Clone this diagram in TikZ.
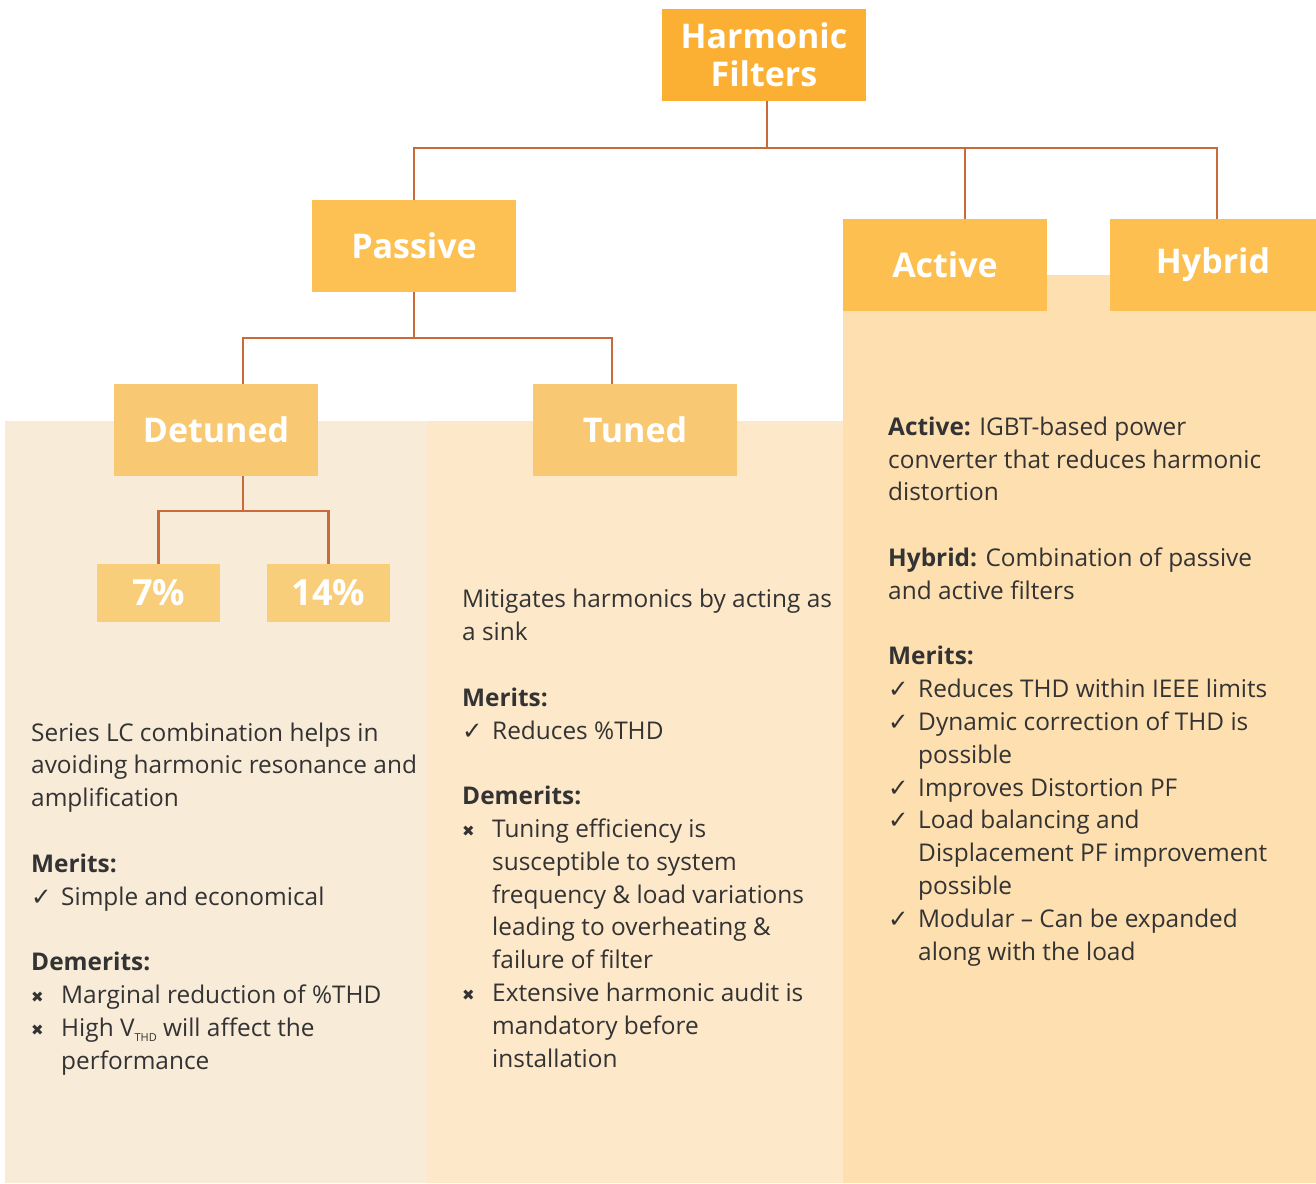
\documentclass[tikz,border=0pt]{standalone}
\usepackage{fontspec}
\setmainfont{Open Sans}
\newfontfamily\symfont{DejaVu Sans}
\definecolor{hfc}{HTML}{FBB034}
\definecolor{pasc}{HTML}{FCC152}
\definecolor{actc}{HTML}{FDBF4F}
\definecolor{detc}{HTML}{F9C872}
\definecolor{pctc}{HTML}{F9CE7B}
\definecolor{leftbg}{HTML}{F8EBD8}
\definecolor{midbg}{HTML}{FDE8CA}
\definecolor{rightbg}{HTML}{FDDFB0}
\definecolor{connc}{HTML}{C96A3B}
\definecolor{txtc}{HTML}{333333}
\newcommand{\ck}{\makebox[30pt][l]{{\symfont ✓}}}
\newcommand{\cx}{\makebox[30pt][l]{\raisebox{1pt}{\symfont\fontsize{15}{15}\selectfont ✖}}}
\newcommand{\ind}{\hspace*{30pt}}
\begin{document}
\begin{tikzpicture}[x=1pt,y=-1pt,
  box/.style={inner sep=0pt, text=white, font=\fontsize{34}{38}\selectfont\bfseries, minimum width=204pt, minimum height=92pt, align=center},
  pct/.style={inner sep=0pt, text=white, font=\fontsize{36}{38}\selectfont\bfseries, minimum width=123pt, minimum height=58pt},
  conn/.style={draw=connc, line width=2.6pt},
  body/.style={inner sep=0pt, text=txtc, align=left, anchor=base west, font=\fontsize{24.4}{32.8}\selectfont}]
\useasboundingbox (0,0) rectangle (1316,1183);
\fill[white] (0,0) rectangle (1316,1183);
% panels
\fill[leftbg] (5,421) rectangle (427,1183);
\fill[midbg] (427,421) rectangle (843,1183);
\fill[rightbg] (843,275) rectangle (1316,1183);
% boxes
\node[box, fill=hfc] (hf) at (764,55) {Harmonic\\Filters};
\node[box, fill=pasc] (passive) at (414,246) {Passive};
\node[box, fill=actc] (active) at (945,265) {Active};
\node[box, fill=actc, minimum width=206pt] (hybrid) at (1213,265) {Hybrid};
\node[box, fill=detc] (detuned) at (216,430) {Detuned};
\node[box, fill=detc] (tuned) at (635,430) {Tuned};
\node[pct, fill=pctc] (p7) at (158.5,593) {7\%};
\node[pct, fill=pctc] (p14) at (328.5,593) {14\%};
% connectors
\coordinate (j1) at (767,148);
\coordinate (j2) at (414,338);
\coordinate (j3) at (243,511);
\draw[conn] ([xshift=3pt]hf.south) -- (j1);
\draw[conn] (passive.north) |- (j1) -| ([xshift=4pt]hybrid.north);
\draw[conn] ([xshift=20pt]active.north) -- ([xshift=20pt]active.north |- j1);
\draw[conn] (passive.south) -- (j2);
\draw[conn] ([xshift=27pt]detuned.north) |- (j2) -| ([xshift=-23pt]tuned.north);
\draw[conn] ([xshift=27pt]detuned.south) -- (j3);
\draw[conn] (p7.north) |- (j3) -| (p14.north);
% texts
\node[body] (lefttext) at (31,1069) {Series LC combination helps in\\
avoiding harmonic resonance and\\
amplification\\[32.8pt]
\textbf{Merits:}\\
\ck Simple and economical\\[32.8pt]
\textbf{Demerits:}\\
\cx Marginal reduction of \%THD\\
\cx High V\raisebox{-5pt}{\fontsize{11}{11}\selectfont THD} will affect the\\
\ind performance};
\node[body] (midtext) at (462,1067) {Mitigates harmonics by acting as\\
a sink\\[32.8pt]
\textbf{Merits:}\\
\ck Reduces \%THD\\[32.8pt]
\textbf{Demerits:}\\
\cx Tuning efficiency is\\
\ind susceptible to system\\
\ind frequency \& load variations\\
\ind leading to overheating \&\\
\ind failure of filter\\
\cx Extensive harmonic audit is\\
\ind mandatory before\\
\ind installation};
\node[body] (righttext) at (888,960) {\textbf{Active:} IGBT-based power\\
converter that reduces harmonic\\
distortion\\[32.8pt]
\textbf{Hybrid:} Combination of passive\\
and active filters\\[32.8pt]
\textbf{Merits:}\\
\ck Reduces THD within IEEE limits\\
\ck Dynamic correction of THD is\\
\ind possible\\
\ck Improves Distortion PF\\
\ck Load balancing and\\
\ind Displacement PF improvement\\
\ind possible\\
\ck Modular -- Can be expanded\\
\ind along with the load};
\end{tikzpicture}
\end{document}
